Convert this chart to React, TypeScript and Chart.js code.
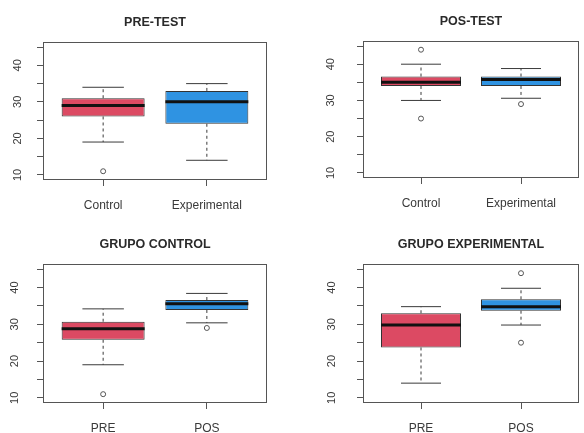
import React, { useEffect, useRef } from "react";
import { Chart, registerables } from "chart.js";

Chart.register(...registerables);

// ---- Data (min, Q1, median, Q3, max) ----
const yTickValues = [10, 15, 20, 25, 30, 35, 40, 45];
const yTickLabels = ["10", "", "20", "", "30", "", "40", ""];

const preTestCategories = ["Control", "Experimental"];
const preTestControl = [19, 26, 29, 31, 34];
const preTestExperimental = [14, 24, 30, 33, 35];
const preTestControlOutliers = [11];
const preTestExperimentalOutliers: number[] = [];

const posTestCategories = ["Control", "Experimental"];
const posTestControl = [30, 34, 35, 36.6, 40];
const posTestExperimental = [30.6, 34, 35.8, 36.6, 38.8];
const posTestControlOutliers = [44, 25];
const posTestExperimentalOutliers = [29];

const grupoControlCategories = ["PRE", "POS"];
const grupoControlPre = [19, 25.8, 28.8, 30.7, 34.2];
const grupoControlPos = [30.4, 33.9, 35.6, 36.6, 38.4];
const grupoControlPreOutliers = [11];
const grupoControlPosOutliers = [29];

const grupoExperimentalCategories = ["PRE", "POS"];
const grupoExperimentalPre = [14, 23.7, 29.8, 33, 34.8];
const grupoExperimentalPos = [29.8, 33.7, 34.8, 36.8, 39.8];
const grupoExperimentalPreOutliers: number[] = [];
const grupoExperimentalPosOutliers = [43.9, 25];

const RED = "#dc4a63";
const BLUE = "#2f93e2";
const INK = "#3a3a3a";
const FONT = "'Liberation Sans', Arial, sans-serif";

type Panel = {
  title: string;
  categories: string[];
  stats: number[][];
  outliers: number[][];
  colors: string[];
  left: number;
  top: number;
  w: number;
  h: number;
  area: { left: number; right: number; top: number; bottom: number };
  yLabelPad: number;
};

const panels: Panel[] = [
  {
    title: "PRE-TEST",
    categories: preTestCategories,
    stats: [preTestControl, preTestExperimental],
    outliers: [preTestControlOutliers, preTestExperimentalOutliers],
    colors: [RED, BLUE],
    left: 0, top: 0, w: 292, h: 216,
    area: { left: 43, right: 267, top: 42, bottom: 180 },
    yLabelPad: 13,
  },
  {
    title: "POS-TEST",
    categories: posTestCategories,
    stats: [posTestControl, posTestExperimental],
    outliers: [posTestControlOutliers, posTestExperimentalOutliers],
    colors: [RED, BLUE],
    left: 292, top: 0, w: 292, h: 216,
    area: { left: 71, right: 290, top: 41, bottom: 178 },
    yLabelPad: 20,
  },
  {
    title: "GRUPO CONTROL",
    categories: grupoControlCategories,
    stats: [grupoControlPre, grupoControlPos],
    outliers: [grupoControlPreOutliers, grupoControlPosOutliers],
    colors: [RED, BLUE],
    left: 0, top: 216, w: 292, h: 217,
    area: { left: 43, right: 267, top: 48, bottom: 187 },
    yLabelPad: 16,
  },
  {
    title: "GRUPO EXPERIMENTAL",
    categories: grupoExperimentalCategories,
    stats: [grupoExperimentalPre, grupoExperimentalPos],
    outliers: [grupoExperimentalPreOutliers, grupoExperimentalPosOutliers],
    colors: [RED, BLUE],
    left: 292, top: 216, w: 292, h: 217,
    area: { left: 71, right: 290, top: 48, bottom: 187 },
    yLabelPad: 19,
  },
];

const boxPlugin = {
  id: "boxDecor",
  afterDatasetsDraw(chart: any, _args: any, opts: any) {
    const { ctx, scales } = chart;
    const y = scales.y;
    const meta = chart.getDatasetMeta(0);
    const stats: number[][] = opts.stats;
    ctx.save();
    stats.forEach((s, i) => {
      const bar = meta.data[i];
      if (!bar) return;
      const cx = bar.x;
      const bw = bar.width;
      const pMin = y.getPixelForValue(s[0]);
      const pQ1 = y.getPixelForValue(s[1]);
      const pMed = y.getPixelForValue(s[2]);
      const pQ3 = y.getPixelForValue(s[3]);
      const pMax = y.getPixelForValue(s[4]);
      ctx.strokeStyle = INK;
      ctx.lineWidth = 1;
      ctx.setLineDash([3, 3]);
      ctx.beginPath();
      ctx.moveTo(cx, pQ3);
      ctx.lineTo(cx, pMax);
      ctx.moveTo(cx, pQ1);
      ctx.lineTo(cx, pMin);
      ctx.stroke();
      ctx.setLineDash([]);
      ctx.beginPath();
      ctx.moveTo(cx - bw / 4, pMax);
      ctx.lineTo(cx + bw / 4, pMax);
      ctx.moveTo(cx - bw / 4, pMin);
      ctx.lineTo(cx + bw / 4, pMin);
      ctx.stroke();
      ctx.strokeStyle = "#111";
      ctx.lineWidth = 3;
      ctx.beginPath();
      ctx.moveTo(cx - bw / 2, pMed);
      ctx.lineTo(cx + bw / 2, pMed);
      ctx.stroke();
    });
    ctx.restore();
  },
  afterDraw(chart: any, _args: any, opts: any) {
    const { ctx, chartArea } = chart;
    ctx.save();
    ctx.strokeStyle = "#555";
    ctx.lineWidth = 1;
    ctx.strokeRect(
      Math.round(chartArea.left) + 0.5,
      Math.round(chartArea.top) + 0.5,
      Math.round(chartArea.right - chartArea.left) - 1,
      Math.round(chartArea.bottom - chartArea.top) - 1
    );
    ctx.fillStyle = "#2a2a2a";
    ctx.font = `bold 12.5px ${FONT}`;
    ctx.textAlign = "center";
    ctx.textBaseline = "middle";
    ctx.fillText(opts.title, (chartArea.left + chartArea.right) / 2, chartArea.top - 19);
    ctx.restore();
  },
};

function BoxPanel({ p }: { p: Panel }) {
  const ref = useRef<HTMLCanvasElement | null>(null);
  useEffect(() => {
    if (!ref.current) return;
    const boxData = p.stats.map((s, i) => ({ x: i + 1, y: [s[1], s[3]] }));
    const outData: { x: number; y: number }[] = [];
    p.outliers.forEach((arr, i) => arr.forEach((v) => outData.push({ x: i + 1, y: v })));
    const chart = new Chart(ref.current, {
      type: "bar",
      data: {
        datasets: [
          {
            type: "bar",
            data: boxData as any,
            backgroundColor: p.colors,
            borderColor: "#333",
            borderWidth: 1,
            borderSkipped: false,
            barPercentage: 0.8,
            categoryPercentage: 1,
          } as any,
          {
            type: "scatter",
            data: outData,
            pointStyle: "circle",
            pointRadius: 2.5,
            borderColor: "#555",
            backgroundColor: "rgba(0,0,0,0)",
            borderWidth: 1,
          } as any,
        ],
      },
      options: {
        animation: false,
        responsive: false,
        devicePixelRatio: 1,
        layout: {
          padding: { left: 0, right: p.w - p.area.right, top: p.area.top, bottom: 0 },
        },
        plugins: {
          legend: { display: false },
          tooltip: { enabled: false },
          title: { display: false },
          boxDecor: { stats: p.stats, title: p.title },
        } as any,
        scales: {
          x: {
            type: "linear",
            min: 0.42,
            max: 2.58,
            offset: false,
            afterBuildTicks: (s: any) => {
              s.ticks = p.categories.map((_, i) => ({ value: i + 1 }));
            },
            afterFit: (s: any) => {
              s.height = p.h - p.area.bottom;
            },
            grid: { offset: false, drawOnChartArea: false, drawTicks: true, tickLength: 6, color: "#555" },
            border: { display: false },
            ticks: {
              callback: (v: any) => p.categories[Math.round(Number(v)) - 1] ?? "",
              color: INK,
              font: { family: FONT, size: 12 },
              padding: 12,
              maxRotation: 0,
              minRotation: 0,
              autoSkip: false,
            },
          },
          y: {
            type: "linear",
            min: 8.6,
            max: 46.4,
            afterBuildTicks: (s: any) => {
              s.ticks = yTickValues.map((v) => ({ value: v }));
            },
            afterFit: (s: any) => {
              s.width = p.area.left;
            },
            grid: { drawOnChartArea: false, drawTicks: true, tickLength: 6, color: "#555" },
            border: { display: false },
            ticks: {
              callback: (_v: any, i: number) => yTickLabels[i] ?? "",
              color: INK,
              font: { family: FONT, size: 11 },
              minRotation: 90,
              maxRotation: 90,
              crossAlign: "center",
              padding: p.yLabelPad,
              autoSkip: false,
            },
          },
        },
      },
      plugins: [boxPlugin],
    } as any);
    return () => chart.destroy();
  }, [p]);
  return (
    <canvas
      ref={ref}
      width={p.w}
      height={p.h}
      style={{ position: "absolute", left: p.left, top: p.top, width: p.w, height: p.h }}
    />
  );
}

export default function App() {
  return (
    <div
      style={{
        position: "fixed",
        left: 0,
        top: 0,
        width: 584,
        height: 433,
        background: "#fff",
        overflow: "hidden",
      }}
    >
      {panels.map((p) => (
        <BoxPanel key={p.title} p={p} />
      ))}
    </div>
  );
}
